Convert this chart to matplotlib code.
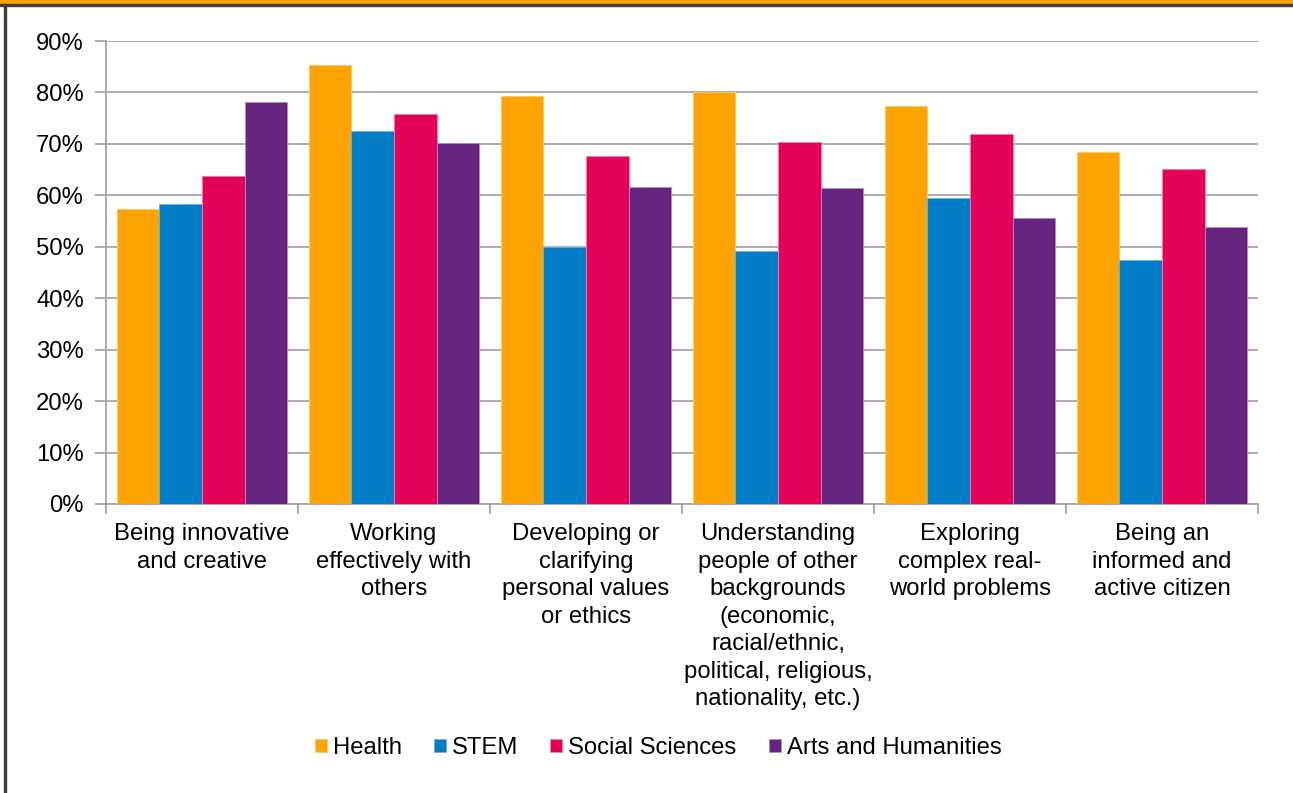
import numpy as np
import matplotlib.pyplot as plt
from matplotlib.patches import Rectangle

plt.rcParams['font.family'] = ['Liberation Sans', 'DejaVu Sans']

categories = [
    "Being innovative\nand creative",
    "Working\neffectively with\nothers",
    "Developing or\nclarifying\npersonal values\nor ethics",
    "Understanding\npeople of other\nbackgrounds\n(economic,\nracial/ethnic,\npolitical, religious,\nnationality, etc.)",
    "Exploring\ncomplex real-\nworld problems",
    "Being an\ninformed and\nactive citizen",
]
series_names = ["Health", "STEM", "Social Sciences", "Arts and Humanities"]
health = [57.4, 85.3, 79.4, 80.0, 77.4, 68.4]
stem = [58.3, 72.6, 50.0, 49.1, 59.5, 47.4]
social = [63.8, 75.8, 67.7, 70.4, 72.0, 65.2]
arts = [78.1, 70.2, 61.7, 61.4, 55.5, 53.8]
yticks = [0, 10, 20, 30, 40, 50, 60, 70, 80, 90]

colors = ["#FFA300", "#007DC6", "#E5005A", "#662480"]
edges = ["#FFC766", "#66B3E0", "#F080A8", "#B08CC0"]
fs = 17.2

fig = plt.figure(figsize=(12.93, 7.93), dpi=100)
ax = fig.add_axes([106 / 1293, 1 - 504 / 793, 1152 / 1293, 463 / 793])

x = np.arange(len(categories))
width = 0.222
values = [health, stem, social, arts]
for i, vals in enumerate(values):
    ax.bar(x + (i - 1.5) * width, vals, width, color=colors[i],
           edgecolor=edges[i], linewidth=0.6, label=series_names[i], zorder=3)

ax.set_xlim(-0.5, len(categories) - 0.5)
ax.set_ylim(0, 90)
ax.set_yticks(yticks)
ax.set_yticklabels([f"{v}%" for v in yticks], fontsize=fs)
ax.yaxis.grid(True, color="#A6A6A6", linewidth=1.3, zorder=0)
ax.tick_params(axis="y", length=8, color="#A6A6A6", width=1.3, pad=8)

ax.set_xticks(x)
ax.set_xticklabels(categories, fontsize=fs, linespacing=1.32)
ax.tick_params(axis="x", length=0, pad=14)
ax.set_xticks(np.arange(len(categories) + 1) - 0.5, minor=True)
ax.tick_params(axis="x", which="minor", length=7, color="#A6A6A6", width=1.3)

for s in ["top", "right"]:
    ax.spines[s].set_visible(False)
for s in ["left", "bottom"]:
    ax.spines[s].set_color("#A6A6A6")
    ax.spines[s].set_linewidth(1.3)

ax.legend(loc="center", bbox_to_anchor=(658 / 1293, 1 - 748 / 793),
          bbox_transform=fig.transFigure, ncol=4, frameon=False,
          fontsize=fs, handlelength=0.5, handleheight=0.5,
          handletextpad=0.25, columnspacing=1.35)

# frame around the chart
fig.patches.append(Rectangle((0, 1 - 3.5 / 793), 1, 3.5 / 793,
                             transform=fig.transFigure, color="#FFA300", zorder=5))
fig.patches.append(Rectangle((0, 1 - 5.5 / 793), 1, 2 / 793,
                             transform=fig.transFigure, color="#404040", zorder=5))
fig.patches.append(Rectangle((4 / 1293, 0), 2 / 1293, 1 - 3.5 / 793,
                             transform=fig.transFigure, color="#404040", zorder=5))

fig.savefig("out.png", dpi=100)
